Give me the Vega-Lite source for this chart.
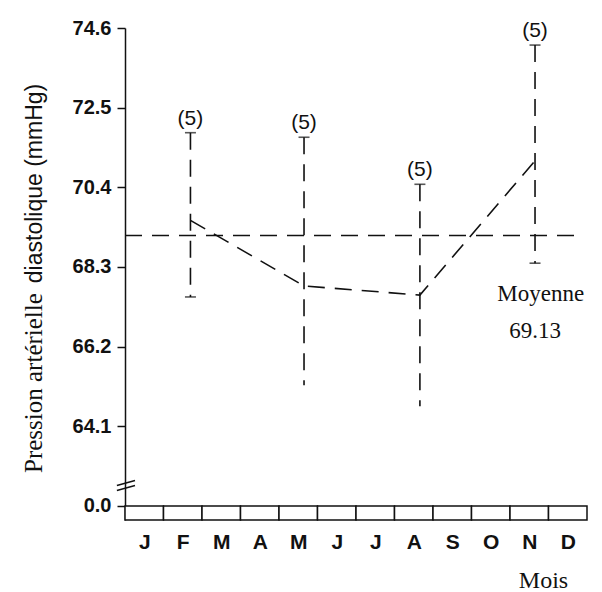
{
  "$schema": "https://vega.github.io/schema/vega-lite/v6.json",
  "width": 462,
  "height": 492,
  "autosize": {"type": "none"},
  "padding": {"left": 125, "top": 28, "right": 15, "bottom": 72},
  "background": "white",
  "config": {
    "view": {"stroke": null},
    "axis": {"grid": false, "domainColor": "#111", "tickColor": "#111", "labelColor": "#111", "titleColor": "#111"}
  },
  "datasets": {
    "mois": [
      {"mois": "J", "debut": 0, "fin": 1},
      {"mois": "F", "debut": 1, "fin": 2},
      {"mois": "M", "debut": 2, "fin": 3},
      {"mois": "A", "debut": 3, "fin": 4},
      {"mois": "M", "debut": 4, "fin": 5},
      {"mois": "J", "debut": 5, "fin": 6},
      {"mois": "J", "debut": 6, "fin": 7},
      {"mois": "A", "debut": 7, "fin": 8},
      {"mois": "S", "debut": 8, "fin": 9},
      {"mois": "O", "debut": 9, "fin": 10},
      {"mois": "N", "debut": 10, "fin": 11},
      {"mois": "D", "debut": 11, "fin": 12}
    ],
    "stats": [
      {"mois": "F", "x": 1.7, "moyenne": 69.53, "haut": 71.84, "bas": 67.51, "n": "(5)", "capBas": true},
      {"mois": "M", "x": 4.65, "moyenne": 67.8, "haut": 71.72, "bas": 65.18, "n": "(5)", "capBas": false},
      {"mois": "A", "x": 7.66, "moyenne": 67.56, "haut": 70.48, "bas": 64.63, "n": "(5)", "capBas": false},
      {"mois": "N", "x": 10.65, "moyenne": 71.1, "haut": 74.15, "bas": 68.4, "n": "(5)", "capBas": true}
    ],
    "coupure": [
      {"x": -0.21, "x2": 0.26, "y": 62.54, "y2": 62.67},
      {"x": -0.21, "x2": 0.26, "y": 62.41, "y2": 62.54}
    ]
  },
  "layer": [
    {
      "data": {"name": "mois"},
      "mark": {"type": "rect", "fill": "white", "stroke": "#111", "strokeWidth": 1.5},
      "encoding": {
        "x": {"field": "debut", "type": "quantitative", "scale": {"domain": [0, 12], "nice": false, "zero": false},
          "axis": {"values": [0.5, 1.5, 2.5, 3.5, 4.5, 5.5, 6.5, 7.5, 8.5, 9.5, 10.5, 11.5],
            "labelExpr": "['J','F','M','A','M','J','J','A','S','O','N','D'][floor(datum.value)]",
            "domain": false, "ticks": false, "labelFont": "Liberation Sans", "labelFontSize": 21, "labelFontWeight": "bold",
            "labelBaseline": "middle", "labelPadding": 22, "labelFlush": false,
            "title": "Mois", "titleFont": "Liberation Serif", "titleFontSize": 24, "titleFontWeight": "normal",
            "titleX": 418, "titleY": 60, "titleAlign": "center", "titleBaseline": "middle"}},
        "x2": {"field": "fin"},
        "y": {"datum": 62.0, "type": "quantitative", "scale": {"domain": [61.63, 74.6], "nice": false, "zero": false},
          "axis": {"values": [62.0, 64.1, 66.2, 68.3, 70.4, 72.5, 74.6],
            "labelExpr": "datum.value < 63 ? '0.0' : format(datum.value, '.1f')",
            "domainWidth": 1.5, "tickWidth": 1.5, "tickSize": 8, "labelPadding": 6,
            "labelFont": "Liberation Sans", "labelFontSize": 20, "labelFontWeight": "bold", "labelFlush": false,
            "title": "diastolique (mmHg)", "titleFont": "Liberation Sans", "titleFontSize": 23, "titleFontWeight": "normal",
            "titleX": -91, "titleY": 155, "titleBaseline": "middle", "titleAngle": -90}},
        "y2": {"datum": 61.63}
      }
    },
    {
      "data": {"values": [{"t": "Pression artérielle"}]},
      "mark": {"type": "text", "font": "Liberation Serif", "fontSize": 25, "angle": 270, "align": "center", "baseline": "middle", "color": "#111"},
      "encoding": {
        "x": {"datum": -2.36, "type": "quantitative"},
        "y": {"datum": 65.24, "type": "quantitative"},
        "text": {"field": "t"}
      }
    },
    {
      "data": {"name": "coupure"},
      "mark": {"type": "rule", "stroke": "#111", "strokeWidth": 1.5},
      "encoding": {
        "x": {"field": "x", "type": "quantitative"},
        "x2": {"field": "x2"},
        "y": {"field": "y", "type": "quantitative"},
        "y2": {"field": "y2"}
      }
    },
    {
      "data": {"values": [{"moyenne": 69.13}]},
      "mark": {"type": "rule", "stroke": "#111", "strokeWidth": 1.6, "strokeDash": [17, 10]},
      "encoding": {
        "x": {"datum": 0, "type": "quantitative"},
        "x2": {"datum": 11.8},
        "y": {"field": "moyenne", "type": "quantitative"}
      }
    },
    {
      "data": {"name": "stats"},
      "mark": {"type": "rule", "stroke": "#111", "strokeWidth": 1.6, "strokeDash": [17, 10]},
      "encoding": {
        "x": {"field": "x", "type": "quantitative"},
        "y": {"field": "haut", "type": "quantitative"},
        "y2": {"field": "bas"}
      }
    },
    {
      "data": {"name": "stats"},
      "mark": {"type": "line", "stroke": "#111", "strokeWidth": 1.6, "strokeDash": [17, 10]},
      "encoding": {
        "x": {"field": "x", "type": "quantitative"},
        "y": {"field": "moyenne", "type": "quantitative"}
      }
    },
    {
      "data": {"name": "stats"},
      "mark": {"type": "tick", "orient": "horizontal", "size": 11, "thickness": 1.6, "color": "#111"},
      "encoding": {
        "x": {"field": "x", "type": "quantitative"},
        "y": {"field": "haut", "type": "quantitative"}
      }
    },
    {
      "data": {"name": "stats"},
      "transform": [{"filter": "datum.capBas"}],
      "mark": {"type": "tick", "orient": "horizontal", "size": 11, "thickness": 1.6, "color": "#111"},
      "encoding": {
        "x": {"field": "x", "type": "quantitative"},
        "y": {"field": "bas", "type": "quantitative"}
      }
    },
    {
      "data": {"name": "stats"},
      "mark": {"type": "text", "font": "Liberation Sans", "fontSize": 21, "baseline": "bottom", "dy": -4, "color": "#111"},
      "encoding": {
        "x": {"field": "x", "type": "quantitative"},
        "y": {"field": "haut", "type": "quantitative"},
        "text": {"field": "n"}
      }
    },
    {
      "data": {"values": [{"t": "Moyenne", "x": 10.8, "y": 67.6}, {"t": "69.13", "x": 10.65, "y": 66.6}]},
      "mark": {"type": "text", "font": "Liberation Serif", "fontSize": 23, "baseline": "middle", "color": "#111"},
      "encoding": {
        "x": {"field": "x", "type": "quantitative"},
        "y": {"field": "y", "type": "quantitative"},
        "text": {"field": "t"}
      }
    }
  ]
}
